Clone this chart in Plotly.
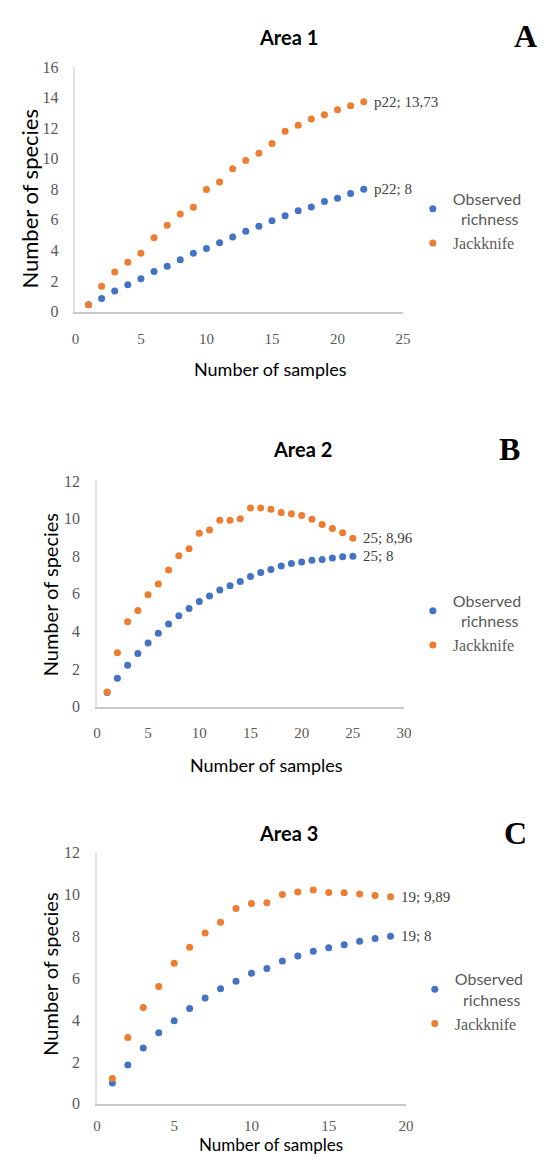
import plotly.graph_objects as go

W, H = 548, 1169

# ---------------- data ----------------
samples_a = list(range(1, 23))
observed_a = [0.45, 0.86, 1.35, 1.76, 2.15, 2.62, 2.96, 3.39, 3.82, 4.12, 4.51,
              4.88, 5.26, 5.58, 5.95, 6.27, 6.59, 6.85, 7.2, 7.41, 7.73, 8.0]
jack_a = [0.45, 1.65, 2.58, 3.22, 3.82, 4.83, 5.65, 6.38, 6.83, 7.99, 8.48,
          9.34, 9.88, 10.37, 11.0, 11.81, 12.2, 12.61, 12.89, 13.21, 13.47, 13.73]
labels_a = ["p22; 8", "p22; 13,73"]

samples_b = list(range(1, 26))
observed_b = [0.75, 1.51, 2.21, 2.83, 3.39, 3.91, 4.4, 4.83, 5.22, 5.6, 5.88,
              6.21, 6.43, 6.66, 6.92, 7.13, 7.3, 7.48, 7.62, 7.7, 7.79, 7.83,
              7.91, 7.97, 8.0]
jack_b = [0.78, 2.87, 4.52, 5.11, 5.95, 6.52, 7.27, 8.03, 8.4, 9.22, 9.39,
          9.91, 9.91, 10.0, 10.57, 10.57, 10.5, 10.33, 10.26, 10.16, 9.97, 9.69,
          9.48, 9.25, 8.96]
labels_b = ["25; 8", "25; 8,96"]

samples_c = list(range(1, 20))
observed_c = [1.0, 1.85, 2.67, 3.4, 3.97, 4.55, 5.05, 5.49, 5.85, 6.23, 6.46,
              6.82, 7.06, 7.29, 7.45, 7.6, 7.76, 7.89, 8.0]
jack_c = [1.21, 3.17, 4.6, 5.6, 6.71, 7.48, 8.16, 8.67, 9.33, 9.57, 9.6,
          10.0, 10.12, 10.21, 10.09, 10.08, 10.02, 9.95, 9.89]
labels_c = ["19; 8", "19; 9,89"]

titles = ["Area 1", "Area 2", "Area 3"]
letters = ["A", "B", "C"]
x_title = "Number of samples"
y_title = "Number of species"
series_names = ["Observed<br>\u00a0\u00a0richness",
                '<span style="font-family:Liberation Serif">Jackknife</span>']

x_ranges = [[0, 25], [0, 30], [0, 20]]
y_ranges = [[0, 16], [0, 12], [0, 12]]

# ---------------- style ----------------
BLUE = "#4472C4"
ORANGE = "#ED7D31"
SANS = "Lato, Open Sans, sans-serif"
SERIF = "Liberation Serif, Times New Roman, serif"
TICK_GRAY = "#595959"


def fx(px):
    return px / W


def fy(py):
    return 1 - py / H


# pixel boxes of each plot area: (left, right, top(ymax), bottom(y=0))
boxes = [(73, 408, 60, 308), (95, 409, 480, 709), (95, 411, 857, 1112)]
xtick_len = [13, 12, 7]
title_pos = [(291, 29), (305, 448), (291, 837)]
letter_pos = [(533, 28), (517, 448), (523, 837)]
ytitle_pos = [(26, 193, 22), (47, 595, 20), (47, 980, 20)]
xtitle_pos = [(272, 366, 18), (268, 768, 18), (273, 1153, 17)]
legend_pos = [(418, 176), (418, 584), (420, 968)]

panels = [
    (samples_a, observed_a, jack_a, labels_a),
    (samples_b, observed_b, jack_b, labels_b),
    (samples_c, observed_c, jack_c, labels_c),
]

fig = go.Figure()
annotations = []
layout = {}

for i, (xs, obs, jk, labs) in enumerate(panels):
    sfx = "" if i == 0 else str(i + 1)
    xa, ya = "x" + sfx, "y" + sfx
    lg = "legend" + sfx
    fig.add_trace(go.Scatter(
        x=xs, y=obs, mode="markers", name=series_names[0],
        marker=dict(color=BLUE, size=7), xaxis=xa, yaxis=ya, legend=lg))
    fig.add_trace(go.Scatter(
        x=xs, y=jk, mode="markers", name=series_names[1],
        marker=dict(color=ORANGE, size=7), xaxis=xa, yaxis=ya, legend=lg))

    left, right, top, bottom = boxes[i]
    layout["xaxis" + sfx] = dict(
        domain=[fx(left), fx(right)], anchor=ya, range=x_ranges[i],
        dtick=5, tick0=0, showgrid=False, zeroline=False,
        showline=True, linecolor="#C8C8C8", linewidth=1.5,
        ticks="outside", ticklen=xtick_len[i], tickcolor="rgba(0,0,0,0)",
        tickfont=dict(family=SERIF, size=15, color=TICK_GRAY))
    layout["yaxis" + sfx] = dict(
        domain=[fy(bottom), fy(top)], anchor=xa, range=y_ranges[i],
        dtick=2, tick0=0, showgrid=False, zeroline=False,
        showline=True, linecolor="#E2E2E2", linewidth=1.5,
        ticks="outside", ticklen=12, tickcolor="rgba(0,0,0,0)",
        tickfont=dict(family=SERIF, size=16, color=TICK_GRAY))
    lx, ly = legend_pos[i]
    layout[lg] = dict(
        x=fx(lx), y=fy(ly), xanchor="left", yanchor="top",
        xref="paper", yref="paper", bgcolor="rgba(0,0,0,0)",
        font=dict(family=SANS, size=16, color=TICK_GRAY),
        itemwidth=30, tracegroupgap=0)

    # data labels at last points
    for vals, lab in zip([obs, jk], labs):
        annotations.append(dict(
            x=xs[-1], y=vals[-1], xref=xa, yref=ya, text=lab,
            showarrow=False, xanchor="left", yanchor="middle", xshift=8,
            font=dict(family=SERIF, size=15, color="#404040")))

    tx, ty = title_pos[i]
    annotations.append(dict(
        x=fx(tx), y=fy(ty), xref="paper", yref="paper", text="<b>%s</b>" % titles[i],
        showarrow=False, xanchor="center", yanchor="middle",
        font=dict(family=SANS, size=20, color="#000000")))
    lx2, ly2 = letter_pos[i]
    annotations.append(dict(
        x=fx(lx2), y=fy(ly2), xref="paper", yref="paper", text="<b>%s</b>" % letters[i],
        showarrow=False, xanchor="center", yanchor="middle",
        font=dict(family=SERIF, size=32, color="#000000")))
    yx, yy, ys = ytitle_pos[i]
    annotations.append(dict(
        x=fx(yx), y=fy(yy), xref="paper", yref="paper", text=y_title,
        showarrow=False, xanchor="center", yanchor="middle", textangle=-90,
        font=dict(family=SANS, size=ys, color="#000000")))
    xx, xy, xsz = xtitle_pos[i]
    annotations.append(dict(
        x=fx(xx), y=fy(xy), xref="paper", yref="paper", text=x_title,
        showarrow=False, xanchor="center", yanchor="middle",
        font=dict(family=SANS, size=xsz, color="#000000")))

fig.update_layout(
    width=W, height=H, margin=dict(l=0, r=0, t=0, b=0),
    paper_bgcolor="white", plot_bgcolor="white",
    annotations=annotations, **layout)

fig.write_html("out.html",
               config={"displayModeBar": False},
               post_script="document.body.style.margin='0';"
                           "document.body.style.overflow='hidden';")
